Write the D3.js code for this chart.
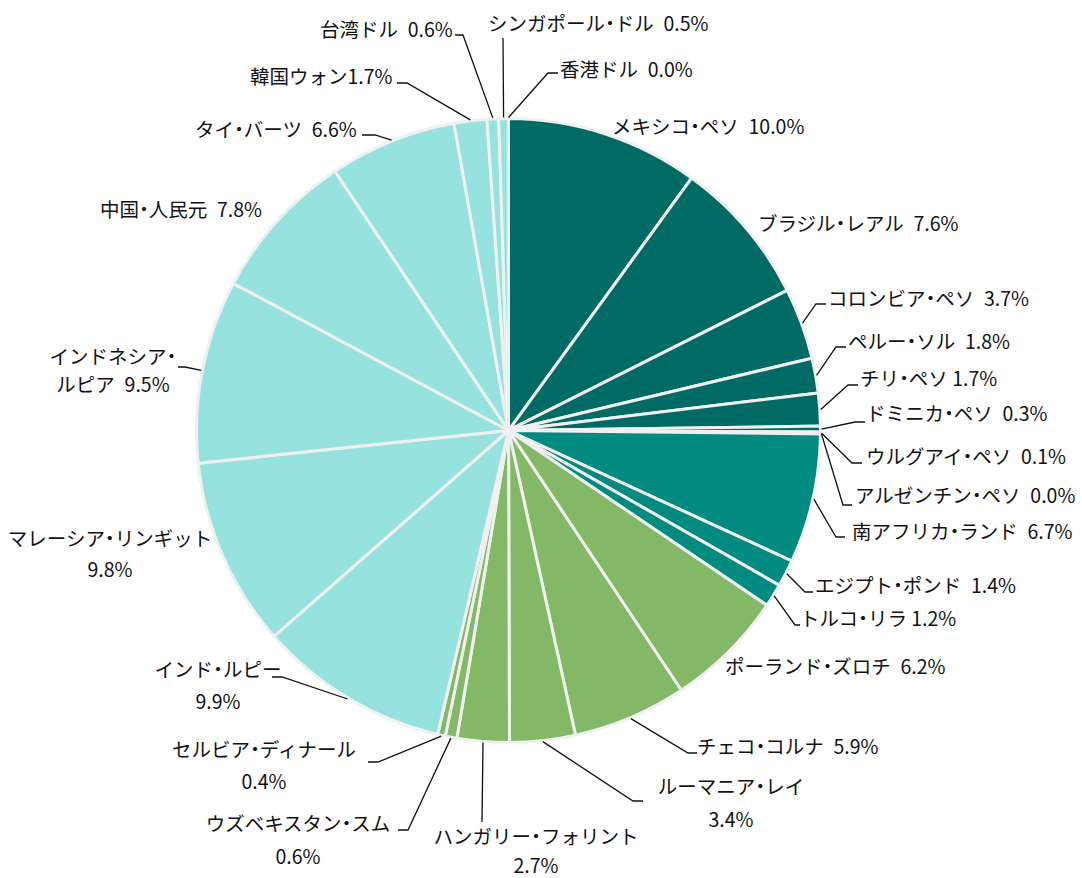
<!DOCTYPE html>
<html>
<head>
<meta charset="utf-8">
<script src="https://cdn.jsdelivr.net/npm/d3@7"></script>
<style>
  html, body { margin: 0; padding: 0; background: #ffffff; }
  svg text { font-family: "Noto Sans CJK JP", "Noto Sans", sans-serif; font-size: 19.5px; font-weight: 400; fill: #111; }
  svg text tspan.dot { font-feature-settings: "palt"; }
</style>
</head>
<body>
<svg id="chart" width="1082" height="878"></svg>
<script>
// ---- data ----
const currencies = [
  "メキシコ・ペソ", "ブラジル・レアル", "コロンビア・ペソ", "ペルー・ソル", "チリ・ペソ",
  "ドミニカ・ペソ", "ウルグアイ・ペソ", "アルゼンチン・ペソ", "南アフリカ・ランド", "エジプト・ポンド",
  "トルコ・リラ", "ポーランド・ズロチ", "チェコ・コルナ", "ルーマニア・レイ", "ハンガリー・フォリント",
  "ウズベキスタン・スム", "セルビア・ディナール", "インド・ルピー", "マレーシア・リンギット", "インドネシア・ルピア",
  "中国・人民元", "タイ・バーツ", "韓国ウォン", "台湾ドル", "シンガポール・ドル", "香港ドル"
];
const weights = [
  10.0, 7.6, 3.7, 1.8, 1.7,
  0.3, 0.1, 0.0, 6.7, 1.4,
  1.2, 6.2, 5.9, 3.4, 2.7,
  0.6, 0.4, 9.9, 9.8, 9.5,
  7.8, 6.6, 1.7, 0.6, 0.5, 0.0
];
const regions = [
  "latam", "latam", "latam", "latam", "latam",
  "latam", "latam", "latam", "emea", "emea",
  "emea", "europe", "europe", "europe", "europe",
  "europe", "europe", "asia", "asia", "asia",
  "asia", "asia", "asia", "asia", "asia", "asia"
];
const regionNames = ["latam", "emea", "europe", "asia"];
const regionColors = ["#006a65", "#008a80", "#83b866", "#96e2de"];

// ---- label layout (annotation placement) ----
const NB = "\u2002";
const labelLayout = [
  { lines: ["メキシコ・ペソ" + NB + "10.0%"], x: 612, cy: [125], anchor: "start" },
  { lines: ["ブラジル・レアル" + NB + "7.6%"], x: 758, cy: [222], anchor: "start" },
  { lines: ["コロンビア・ペソ" + NB + "3.7%"], x: 828, cy: [297], anchor: "start", elbow: [816, 304], hx: 826 },
  { lines: ["ペルー・ソル" + NB + "1.8%"], x: 848, cy: [340], anchor: "start", elbow: [836, 347], hx: 846 },
  { lines: ["チリ・ペソ 1.7%"], x: 860, cy: [377], anchor: "start", elbow: [848, 385], hx: 858 },
  { lines: ["ドミニカ・ペソ" + NB + "0.3%"], x: 866, cy: [412], anchor: "start", elbow: [855, 422], hx: 865 },
  { lines: ["ウルグアイ・ペソ" + NB + "0.1%"], x: 866, cy: [455], anchor: "start", elbow: [852, 463], hx: 862 },
  { lines: ["アルゼンチン・ペソ" + NB + "0.0%"], x: 855, cy: [494], anchor: "start", elbow: [843, 505], hx: 852 },
  { lines: ["南アフリカ・ランド" + NB + "6.7%"], x: 852, cy: [530], anchor: "start", elbow: [836, 537], hx: 845 },
  { lines: ["エジプト・ポンド" + NB + "1.4%"], x: 815, cy: [584], anchor: "start", elbow: [805, 592], hx: 813 },
  { lines: ["トルコ・リラ 1.2%"], x: 800, cy: [617], anchor: "start", elbow: [795, 625], hx: 800 },
  { lines: ["ポーランド・ズロチ" + NB + "6.2%"], x: 725, cy: [665], anchor: "start" },
  { lines: ["チェコ・コルナ" + NB + "5.9%"], x: 697, cy: [745], anchor: "start", elbow: [688, 753], hx: 697 },
  { lines: ["ルーマニア・レイ", "3.4%"], x: 731, cy: [785, 818], anchor: "middle", elbow: [633, 801], hx: 643 },
  { lines: ["ハンガリー・フォリント", "2.7%"], x: 536, cy: [835, 864], anchor: "middle", elbow: [482, 822], hx: 482 },
  { lines: ["ウズベキスタン・スム", "0.6%"], x: 298, cy: [822, 855], anchor: "middle", elbow: [408, 830], hx: 398 },
  { lines: ["セルビア・ディナール", "0.4%"], x: 264, cy: [748, 780], anchor: "middle", elbow: [378, 762], hx: 368 },
  { lines: ["インド・ルピー", "9.9%"], x: 218, cy: [668, 700], anchor: "middle", elbow: [282, 677], hx: 272 },
  { lines: ["マレーシア・リンギット", "9.8%"], x: 110, cy: [537, 568], anchor: "middle" },
  { lines: ["インドネシア・", "ルピア" + NB + "9.5%"], x: 113, cy: [355, 383], anchor: "middle", elbow: [185, 367], hx: 178 },
  { lines: ["中国・人民元" + NB + "7.8%"], x: 100, cy: [208], anchor: "start" },
  { lines: ["タイ・バーツ" + NB + "6.6%"], x: 195, cy: [128], anchor: "start", elbow: [375, 135], hx: 362 },
  { lines: ["韓国ウォン1.7%"], x: 250, cy: [75], anchor: "start", elbow: [407, 83], hx: 397 },
  { lines: ["台湾ドル" + NB + "0.6%"], x: 320, cy: [28], anchor: "start", elbow: [463, 35], hx: 455 },
  { lines: ["シンガポール・ドル" + NB + "0.5%"], x: 488, cy: [22], anchor: "start", elbow: [503, 38], hx: 503 },
  { lines: ["香港ドル" + NB + "0.0%"], x: 560, cy: [68], anchor: "start", elbow: [548, 73], hx: 558 }
];

// ---- drawing ----
const svg = d3.select("#chart");
const cx = 508.5, cy = 430.5, R = 312;

const color = d3.scaleOrdinal().domain(regionNames).range(regionColors);

const data = currencies.map((c, i) => ({ name: c, value: weights[i], region: regions[i], i }));

const pie = d3.pie().value(d => d.value).sort(null).startAngle(0).endAngle(2 * Math.PI);
const arcs = pie(data);
const arc = d3.arc().innerRadius(0).outerRadius(R);

const g = svg.append("g").attr("transform", `translate(${cx},${cy})`);

g.selectAll("path.slice")
  .data(arcs)
  .join("path")
  .attr("class", "slice")
  .attr("d", arc)
  .attr("fill", d => color(d.data.region))
  .attr("stroke", "#f0f0f0")
  .attr("stroke-width", 3)
  .attr("stroke-linejoin", "round");

// leader lines
const leaders = svg.append("g").attr("fill", "none").attr("stroke", "#111").attr("stroke-width", 1.3);
arcs.forEach((a, i) => {
  const L = labelLayout[i];
  if (!L.elbow) return;
  const mid = (a.startAngle + a.endAngle) / 2;
  const sx = cx + (R + 1) * Math.sin(mid);
  const sy = cy - (R + 1) * Math.cos(mid);
  const pts = [[sx, sy], L.elbow, [L.hx, L.elbow[1]]];
  leaders.append("path").attr("d", d3.line()(pts));
});

// labels
const labels = svg.append("g");
labelLayout.forEach(L => {
  const t = labels.append("text").attr("text-anchor", L.anchor).attr("xml:space", "preserve");
  L.lines.forEach((ln, k) => {
    const parts = ln.split("・");
    parts.forEach((p, j) => {
      const ts = t.append("tspan");
      if (j === 0) ts.attr("x", L.x).attr("y", L.cy[k]);
      ts.attr("dominant-baseline", "central").text(p);
      if (j < parts.length - 1) {
        t.append("tspan").attr("class", "dot").attr("dominant-baseline", "central").text("・");
      }
    });
  });
});
</script>
</body>
</html>
